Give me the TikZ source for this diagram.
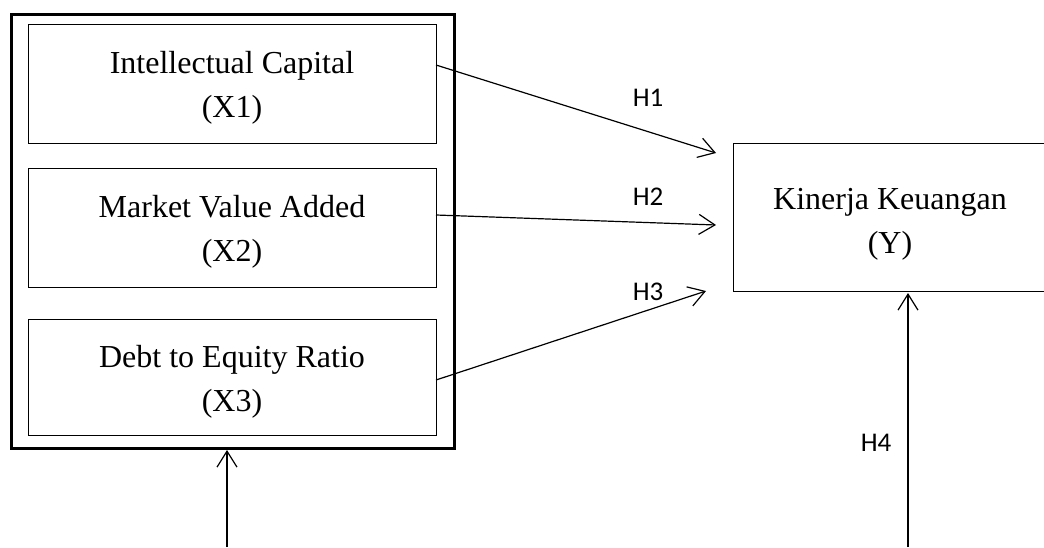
\documentclass[tikz,border=0pt]{standalone}
\usepackage{fontspec}
\setmainfont{Liberation Serif}
\newfontfamily\hfont{Carlito}
\usetikzlibrary{arrows.meta}
\begin{document}
\begin{tikzpicture}[x=1pt,y=-1pt,
  outerbox/.style={draw,line width=3pt,minimum width=443pt,minimum height=434pt,inner sep=0pt},
  varbox/.style={draw,line width=1pt,minimum width=408pt,inner sep=0pt},
  ybox/.style={draw,line width=1.2pt,minimum width=360pt,minimum height=148pt,inner sep=0pt,anchor=north west},
  btext/.style={align=center,inner sep=0pt,font=\fontsize{32}{44}\selectfont},
  arr/.style={line width=1.2pt,-{Straight Barb[length=16pt,width=20pt,line width=1.2pt]}},
  hlab/.style={font=\hfont\fontsize{27}{30}\selectfont,inner sep=0pt}]
\useasboundingbox (0,0) rectangle (1044,547);
\clip (0,0) rectangle (1044,547);
\node[outerbox] (outer) at (232.5,231) {};
\node[varbox,minimum height=119pt] (b1) at (232,83.5) {};
\node[varbox,minimum height=119pt] (b2) at (232,227.5) {};
\node[varbox,minimum height=116pt] (b3) at (232,377) {};
\node[btext] (t1) at (232,87.5) {Intellectual Capital\\(X1)};
\node[btext] (t2) at (232,231.5) {Market Value Added\\(X2)};
\node[btext] (t3) at (232,381.5) {Debt to Equity Ratio\\(X3)};
\node[ybox] (y) at (733,143) {};
\node[btext] (yt) at (890,224) {Kinerja Keuangan\\(Y)};
\coordinate (s1) at (436,65);
\coordinate (s2) at (436,215);
\coordinate (s3) at (436,380);
\coordinate (e1) at (716,153);
\coordinate (e2) at (716,225);
\coordinate (e3) at (706,291);
\coordinate (u1) at (227,547);
\coordinate (v1) at (227,450);
\coordinate (u2) at (908,547);
\coordinate (v2) at (908,293);
\draw[arr] (s1) -- (e1);
\draw[arr] (s2) -- (e2);
\draw[arr] (s3) -- (e3);
\draw[arr] (u1) -- (v1);
\draw[arr] (u2) -- (v2);
\node[hlab] (h1) at (648,98) {H1};
\node[hlab] (h2) at (648,197) {H2};
\node[hlab] (h3) at (648,292) {H3};
\node[hlab] (h4) at (876,443) {H4};
\end{tikzpicture}
\end{document}
